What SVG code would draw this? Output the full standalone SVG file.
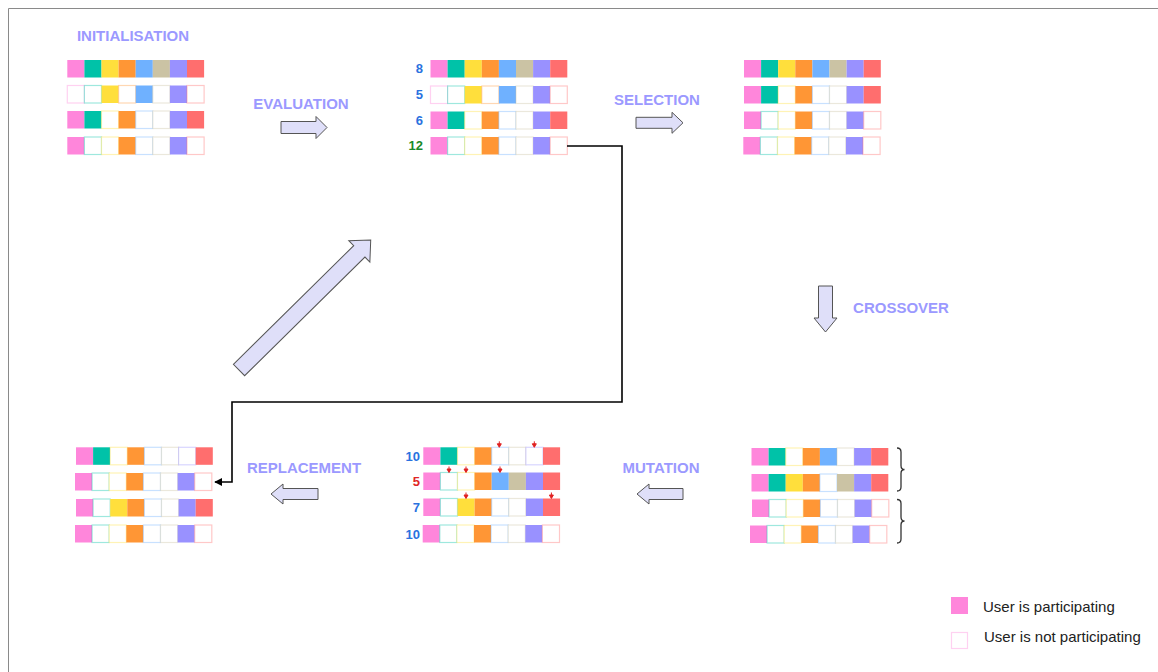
<svg xmlns="http://www.w3.org/2000/svg" width="1158" height="672" viewBox="0 0 1158 672">
<style>
.lbl{font-family:"Liberation Sans",Arial,sans-serif;font-weight:bold;font-size:15px;fill:#9b99ff;text-anchor:middle}
.num{font-family:"Liberation Sans",Arial,sans-serif;font-weight:bold;font-size:13px;text-anchor:end}
.nb{fill:#2a72e0}.ng{fill:#1a8a2a}.nr{fill:#e02626}
.leg{font-family:"Liberation Sans",Arial,sans-serif;font-size:15px;fill:#222}
.p{fill:#ff86db}.t{fill:#00c2a8}.y{fill:#ffdf3c}.o{fill:#ff9635}.b{fill:#6fb1ff}.k{fill:#cbc3a4}.u{fill:#9991ff}.r{fill:#ff6e6e}
.pe,.te,.ye,.oe,.be,.ke,.ue,.re{fill:#fff;stroke-width:1.2;stroke-opacity:.38}
.pe{stroke:#ff86db}.te{stroke:#00c2a8}.ye{stroke:#ffdf3c}.oe{stroke:#ff9635}.be{stroke:#6fb1ff}.ke{stroke:#cbc3a4}.ue{stroke:#9991ff}.re{stroke:#ff6e6e}
.blk{fill:#dfdff9;stroke:#555;stroke-width:1}
.mk{fill:#e02020;stroke:#e02020;stroke-width:1}
.brace{fill:none;stroke:#333;stroke-width:1.3}
</style>
<defs>
<marker id="ah" viewBox="0 0 10 10" refX="9" refY="5" markerWidth="5" markerHeight="5" orient="auto" markerUnits="strokeWidth">
<path d="M0,0 L10,5 L0,10 Z" fill="#000"/>
</marker>
<g id="mark"><path d="M0,-6 L0,-3" class="mk"/><path d="M-2,-3.5 L2,-3.5 L0,0 Z" class="mk"/></g>
</defs>

<g id="frame"><path d="M8.5,672 L8.5,8.5 L1158,8.5" fill="none" stroke="#8a8a8a" stroke-width="1"/></g>

<g id="initialisation">
<text class="lbl" x="133" y="41">INITIALISATION</text>
<g transform="translate(67.3,60)"><rect class="p" x="0" width="17.1" height="17.5"/><rect class="t" x="17.1" width="17.1" height="17.5"/><rect class="y" x="34.2" width="17.1" height="17.5"/><rect class="o" x="51.3" width="17.1" height="17.5"/><rect class="b" x="68.4" width="17.1" height="17.5"/><rect class="k" x="85.5" width="17.1" height="17.5"/><rect class="u" x="102.6" width="17.1" height="17.5"/><rect class="r" x="119.7" width="17.1" height="17.5"/></g>
<g transform="translate(67.3,85.5)"><rect class="pe" x="0" width="17.1" height="17.5"/><rect class="te" x="17.1" width="17.1" height="17.5"/><rect class="y" x="34.2" width="17.1" height="17.5"/><rect class="oe" x="51.3" width="17.1" height="17.5"/><rect class="b" x="68.4" width="17.1" height="17.5"/><rect class="ke" x="85.5" width="17.1" height="17.5"/><rect class="u" x="102.6" width="17.1" height="17.5"/><rect class="re" x="119.7" width="17.1" height="17.5"/></g>
<g transform="translate(67.3,111)"><rect class="p" x="0" width="17.1" height="17.5"/><rect class="t" x="17.1" width="17.1" height="17.5"/><rect class="ye" x="34.2" width="17.1" height="17.5"/><rect class="o" x="51.3" width="17.1" height="17.5"/><rect class="be" x="68.4" width="17.1" height="17.5"/><rect class="ke" x="85.5" width="17.1" height="17.5"/><rect class="u" x="102.6" width="17.1" height="17.5"/><rect class="r" x="119.7" width="17.1" height="17.5"/></g>
<g transform="translate(67.3,137)"><rect class="p" x="0" width="17.1" height="17.5"/><rect class="te" x="17.1" width="17.1" height="17.5"/><rect class="ye" x="34.2" width="17.1" height="17.5"/><rect class="o" x="51.3" width="17.1" height="17.5"/><rect class="be" x="68.4" width="17.1" height="17.5"/><rect class="ke" x="85.5" width="17.1" height="17.5"/><rect class="u" x="102.6" width="17.1" height="17.5"/><rect class="re" x="119.7" width="17.1" height="17.5"/></g>
</g>

<g id="evaluation">
<text class="lbl" x="301" y="109">EVALUATION</text>
<text class="num nb" x="423" y="73">8</text>
<text class="num nb" x="423" y="99">5</text>
<text class="num nb" x="423" y="124.5">6</text>
<text class="num ng" x="423" y="150">12</text>
<g transform="translate(430.5,60)"><rect class="p" x="0" width="17.1" height="17.5"/><rect class="t" x="17.1" width="17.1" height="17.5"/><rect class="y" x="34.2" width="17.1" height="17.5"/><rect class="o" x="51.3" width="17.1" height="17.5"/><rect class="b" x="68.4" width="17.1" height="17.5"/><rect class="k" x="85.5" width="17.1" height="17.5"/><rect class="u" x="102.6" width="17.1" height="17.5"/><rect class="r" x="119.7" width="17.1" height="17.5"/></g>
<g transform="translate(430.5,86)"><rect class="pe" x="0" width="17.1" height="17.5"/><rect class="te" x="17.1" width="17.1" height="17.5"/><rect class="y" x="34.2" width="17.1" height="17.5"/><rect class="oe" x="51.3" width="17.1" height="17.5"/><rect class="b" x="68.4" width="17.1" height="17.5"/><rect class="ke" x="85.5" width="17.1" height="17.5"/><rect class="u" x="102.6" width="17.1" height="17.5"/><rect class="re" x="119.7" width="17.1" height="17.5"/></g>
<g transform="translate(430.5,111.5)"><rect class="p" x="0" width="17.1" height="17.5"/><rect class="t" x="17.1" width="17.1" height="17.5"/><rect class="ye" x="34.2" width="17.1" height="17.5"/><rect class="o" x="51.3" width="17.1" height="17.5"/><rect class="be" x="68.4" width="17.1" height="17.5"/><rect class="ke" x="85.5" width="17.1" height="17.5"/><rect class="u" x="102.6" width="17.1" height="17.5"/><rect class="r" x="119.7" width="17.1" height="17.5"/></g>
<g transform="translate(430.5,137)"><rect class="p" x="0" width="17.1" height="17.5"/><rect class="te" x="17.1" width="17.1" height="17.5"/><rect class="ye" x="34.2" width="17.1" height="17.5"/><rect class="o" x="51.3" width="17.1" height="17.5"/><rect class="be" x="68.4" width="17.1" height="17.5"/><rect class="ke" x="85.5" width="17.1" height="17.5"/><rect class="u" x="102.6" width="17.1" height="17.5"/><rect class="re" x="119.7" width="17.1" height="17.5"/></g>
</g>

<g id="selection">
<text class="lbl" x="657" y="105">SELECTION</text>
<g transform="translate(744,60)"><rect class="p" x="0" width="17.1" height="17.5"/><rect class="t" x="17.1" width="17.1" height="17.5"/><rect class="y" x="34.2" width="17.1" height="17.5"/><rect class="o" x="51.3" width="17.1" height="17.5"/><rect class="b" x="68.4" width="17.1" height="17.5"/><rect class="k" x="85.5" width="17.1" height="17.5"/><rect class="u" x="102.6" width="17.1" height="17.5"/><rect class="r" x="119.7" width="17.1" height="17.5"/></g>
<g transform="translate(744,86)"><rect class="p" x="0" width="17.1" height="17.5"/><rect class="t" x="17.1" width="17.1" height="17.5"/><rect class="ye" x="34.2" width="17.1" height="17.5"/><rect class="o" x="51.3" width="17.1" height="17.5"/><rect class="be" x="68.4" width="17.1" height="17.5"/><rect class="ke" x="85.5" width="17.1" height="17.5"/><rect class="u" x="102.6" width="17.1" height="17.5"/><rect class="r" x="119.7" width="17.1" height="17.5"/></g>
<g transform="translate(744,111.5)"><rect class="p" x="0" width="17.1" height="17.5"/><rect class="te" x="17.1" width="17.1" height="17.5"/><rect class="ye" x="34.2" width="17.1" height="17.5"/><rect class="o" x="51.3" width="17.1" height="17.5"/><rect class="be" x="68.4" width="17.1" height="17.5"/><rect class="ke" x="85.5" width="17.1" height="17.5"/><rect class="u" x="102.6" width="17.1" height="17.5"/><rect class="re" x="119.7" width="17.1" height="17.5"/></g>
<g transform="translate(743.3,137)"><rect class="p" x="0" width="17.1" height="17.5"/><rect class="te" x="17.1" width="17.1" height="17.5"/><rect class="ye" x="34.2" width="17.1" height="17.5"/><rect class="o" x="51.3" width="17.1" height="17.5"/><rect class="be" x="68.4" width="17.1" height="17.5"/><rect class="ke" x="85.5" width="17.1" height="17.5"/><rect class="u" x="102.6" width="17.1" height="17.5"/><rect class="re" x="119.7" width="17.1" height="17.5"/></g>
</g>

<g id="crossover">
<text class="lbl" x="901" y="313">CROSSOVER</text>
<g transform="translate(751.5,448)"><rect class="p" x="0" width="17.1" height="17.5"/><rect class="t" x="17.1" width="17.1" height="17.5"/><rect class="ye" x="34.2" width="17.1" height="17.5"/><rect class="o" x="51.3" width="17.1" height="17.5"/><rect class="b" x="68.4" width="17.1" height="17.5"/><rect class="ke" x="85.5" width="17.1" height="17.5"/><rect class="u" x="102.6" width="17.1" height="17.5"/><rect class="r" x="119.7" width="17.1" height="17.5"/></g>
<g transform="translate(751.5,474)"><rect class="p" x="0" width="17.1" height="17.5"/><rect class="t" x="17.1" width="17.1" height="17.5"/><rect class="y" x="34.2" width="17.1" height="17.5"/><rect class="o" x="51.3" width="17.1" height="17.5"/><rect class="be" x="68.4" width="17.1" height="17.5"/><rect class="k" x="85.5" width="17.1" height="17.5"/><rect class="u" x="102.6" width="17.1" height="17.5"/><rect class="r" x="119.7" width="17.1" height="17.5"/></g>
<g transform="translate(752,499.5)"><rect class="p" x="0" width="17.1" height="17.5"/><rect class="te" x="17.1" width="17.1" height="17.5"/><rect class="ye" x="34.2" width="17.1" height="17.5"/><rect class="o" x="51.3" width="17.1" height="17.5"/><rect class="be" x="68.4" width="17.1" height="17.5"/><rect class="ke" x="85.5" width="17.1" height="17.5"/><rect class="u" x="102.6" width="17.1" height="17.5"/><rect class="re" x="119.7" width="17.1" height="17.5"/></g>
<g transform="translate(750,525.5)"><rect class="p" x="0" width="17.1" height="17.5"/><rect class="te" x="17.1" width="17.1" height="17.5"/><rect class="ye" x="34.2" width="17.1" height="17.5"/><rect class="o" x="51.3" width="17.1" height="17.5"/><rect class="be" x="68.4" width="17.1" height="17.5"/><rect class="ke" x="85.5" width="17.1" height="17.5"/><rect class="u" x="102.6" width="17.1" height="17.5"/><rect class="re" x="119.7" width="17.1" height="17.5"/></g>
<path class="brace" d="M897,448 Q901,448 901,452 L901,465.5 Q901,469.5 904.5,469.5 Q901,469.5 901,473.5 L901,487 Q901,491 897,491"/>
<path class="brace" d="M897,499.5 Q901,499.5 901,503.5 L901,517 Q901,521 904.5,521 Q901,521 901,525 L901,539 Q901,543 897,543"/>
</g>

<g id="mutation">
<text class="lbl" x="661" y="473">MUTATION</text>
<text class="num nb" x="420" y="461">10</text>
<text class="num nr" x="420" y="486">5</text>
<text class="num nb" x="420" y="512">7</text>
<text class="num nb" x="420" y="538.5">10</text>
<g transform="translate(423.3,447.3)"><rect class="p" x="0" width="17.1" height="17.5"/><rect class="t" x="17.1" width="17.1" height="17.5"/><rect class="ye" x="34.2" width="17.1" height="17.5"/><rect class="o" x="51.3" width="17.1" height="17.5"/><rect class="be" x="68.4" width="17.1" height="17.5"/><rect class="ke" x="85.5" width="17.1" height="17.5"/><rect class="ue" x="102.6" width="17.1" height="17.5"/><rect class="r" x="119.7" width="17.1" height="17.5"/></g>
<g transform="translate(423.3,472.5)"><rect class="p" x="0" width="17.1" height="17.5"/><rect class="te" x="17.1" width="17.1" height="17.5"/><rect class="ye" x="34.2" width="17.1" height="17.5"/><rect class="o" x="51.3" width="17.1" height="17.5"/><rect class="b" x="68.4" width="17.1" height="17.5"/><rect class="k" x="85.5" width="17.1" height="17.5"/><rect class="u" x="102.6" width="17.1" height="17.5"/><rect class="r" x="119.7" width="17.1" height="17.5"/></g>
<g transform="translate(423.3,498.5)"><rect class="p" x="0" width="17.1" height="17.5"/><rect class="te" x="17.1" width="17.1" height="17.5"/><rect class="y" x="34.2" width="17.1" height="17.5"/><rect class="o" x="51.3" width="17.1" height="17.5"/><rect class="be" x="68.4" width="17.1" height="17.5"/><rect class="ke" x="85.5" width="17.1" height="17.5"/><rect class="u" x="102.6" width="17.1" height="17.5"/><rect class="r" x="119.7" width="17.1" height="17.5"/></g>
<g transform="translate(422.7,525)"><rect class="p" x="0" width="17.1" height="17.5"/><rect class="te" x="17.1" width="17.1" height="17.5"/><rect class="ye" x="34.2" width="17.1" height="17.5"/><rect class="o" x="51.3" width="17.1" height="17.5"/><rect class="be" x="68.4" width="17.1" height="17.5"/><rect class="ke" x="85.5" width="17.1" height="17.5"/><rect class="u" x="102.6" width="17.1" height="17.5"/><rect class="re" x="119.7" width="17.1" height="17.5"/></g>
<use href="#mark" x="499.3" y="447.3"/>
<use href="#mark" x="534.3" y="447.3"/>
<use href="#mark" x="449" y="472.5"/>
<use href="#mark" x="466" y="472.5"/>
<use href="#mark" x="500" y="472.5"/>
<use href="#mark" x="466" y="498.5"/>
<use href="#mark" x="551.4" y="498.5"/>
</g>

<g id="replacement">
<text class="lbl" x="304" y="473">REPLACEMENT</text>
<g transform="translate(76,447.3)"><rect class="p" x="0" width="17.1" height="17.5"/><rect class="t" x="17.1" width="17.1" height="17.5"/><rect class="ye" x="34.2" width="17.1" height="17.5"/><rect class="o" x="51.3" width="17.1" height="17.5"/><rect class="be" x="68.4" width="17.1" height="17.5"/><rect class="ke" x="85.5" width="17.1" height="17.5"/><rect class="ue" x="102.6" width="17.1" height="17.5"/><rect class="r" x="119.7" width="17.1" height="17.5"/></g>
<g transform="translate(75,473)"><rect class="p" x="0" width="17.1" height="17.5"/><rect class="te" x="17.1" width="17.1" height="17.5"/><rect class="ye" x="34.2" width="17.1" height="17.5"/><rect class="o" x="51.3" width="17.1" height="17.5"/><rect class="be" x="68.4" width="17.1" height="17.5"/><rect class="ke" x="85.5" width="17.1" height="17.5"/><rect class="u" x="102.6" width="17.1" height="17.5"/><rect class="re" x="119.7" width="17.1" height="17.5"/></g>
<g transform="translate(76,499)"><rect class="p" x="0" width="17.1" height="17.5"/><rect class="te" x="17.1" width="17.1" height="17.5"/><rect class="y" x="34.2" width="17.1" height="17.5"/><rect class="o" x="51.3" width="17.1" height="17.5"/><rect class="be" x="68.4" width="17.1" height="17.5"/><rect class="ke" x="85.5" width="17.1" height="17.5"/><rect class="u" x="102.6" width="17.1" height="17.5"/><rect class="r" x="119.7" width="17.1" height="17.5"/></g>
<g transform="translate(75,525)"><rect class="p" x="0" width="17.1" height="17.5"/><rect class="te" x="17.1" width="17.1" height="17.5"/><rect class="ye" x="34.2" width="17.1" height="17.5"/><rect class="o" x="51.3" width="17.1" height="17.5"/><rect class="be" x="68.4" width="17.1" height="17.5"/><rect class="ke" x="85.5" width="17.1" height="17.5"/><rect class="u" x="102.6" width="17.1" height="17.5"/><rect class="re" x="119.7" width="17.1" height="17.5"/></g>
</g>

<g id="legend">
<rect class="p" x="951" y="597" width="17" height="17"/>
<text class="leg" x="983" y="612">User is participating</text>
<rect class="pe" x="951.5" y="632.5" width="16" height="16"/>
<text class="leg" x="984" y="642">User is not participating</text>
</g>

<g id="connectors">
<path class="blk" d="M281,121.5 L316,121.5 L316,116.5 L327,127.5 L316,138.5 L316,133.5 L281,133.5 Z"/>
<path class="blk" d="M636,117.3 L672,117.3 L672,112.3 L683,122.8 L672,133.3 L672,128.3 L636,128.3 Z"/>
<path class="blk" d="M818.5,286 L832.5,286 L832.5,318 L837,318 L825.5,332 L814,318 L818.5,318 Z"/>
<path class="blk" d="M683,488.5 L649,488.5 L649,484 L637,494 L649,504 L649,499.5 L683,499.5 Z"/>
<path class="blk" d="M318,488.5 L283,488.5 L283,484 L271,494 L283,504 L283,499.5 L318,499.5 Z"/>
<path class="blk" transform="translate(239,370) rotate(-44.6)" d="M0,-8 L169,-8 L169,-15 L185,0 L169,15 L169,8 L0,8 Z"/>
<polyline points="567,146 622,146 622,402 232,402 232,482 215,482" fill="none" stroke="#000" stroke-width="1.6" marker-end="url(#ah)"/>
</g>
</svg>
